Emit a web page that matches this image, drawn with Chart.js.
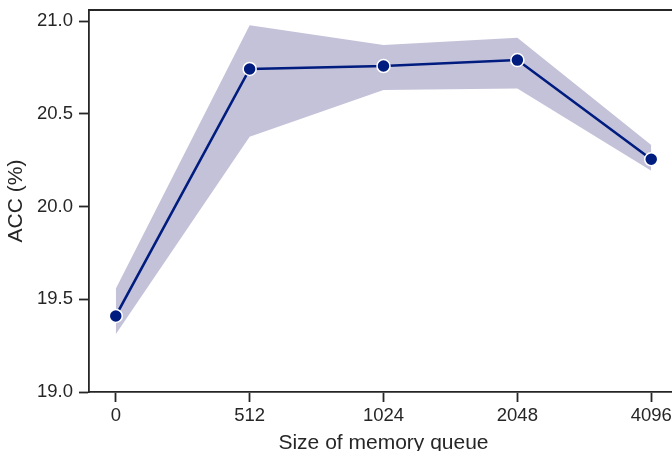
<!DOCTYPE html>
<html><head><meta charset="utf-8">
<script src="https://cdn.jsdelivr.net/npm/chart.js@4/dist/chart.umd.min.js"></script>
<style>
html,body{margin:0;padding:0;overflow:hidden;background:#fff;width:672px;height:451px}
#wrap{position:absolute;left:0;top:0;width:686px;height:451px}
</style>
</head><body><div id="wrap"><canvas id="c" width="686" height="451"></canvas></div>
<script>
const categories = ['0', '512', '1024', '2048', '4096'];
const accMean  = [19.410, 20.742, 20.758, 20.790, 20.255];
const accUpper = [19.557, 20.978, 20.871, 20.910, 20.332];
const accLower = [19.312, 20.376, 20.628, 20.637, 20.193];
const yTicks = [19.0, 19.5, 20.0, 20.5, 21.0];

const INK = '#262626';
const LINE = '#001c7f';
const BAND = '#c4c2d9';
const FAM = '"Liberation Sans", Arial, sans-serif';

const pts = arr => arr.map((v, i) => ({x: i, y: v}));

const spines = {
  id: 'spines',
  afterDraw(chart) {
    const {ctx, chartArea: a} = chart;
    ctx.save();
    ctx.strokeStyle = INK;
    ctx.lineWidth = 1.8;
    ctx.beginPath();
    ctx.moveTo(a.left - 0.9, a.top);
    ctx.lineTo(a.right + 0.9, a.top);
    ctx.moveTo(a.right, a.top);
    ctx.lineTo(a.right, a.bottom);
    ctx.stroke();
    ctx.restore();
  }
};

new Chart(document.getElementById('c'), {
  type: 'line',
  data: {
    datasets: [
      {data: pts(accUpper), borderWidth: 0, borderColor: 'rgba(0,0,0,0)', pointRadius: 0, fill: false, order: 2},
      {data: pts(accLower), borderWidth: 0, borderColor: 'rgba(0,0,0,0)', pointRadius: 0, fill: '-1', backgroundColor: BAND, order: 2},
      {data: pts(accMean), borderColor: LINE, borderWidth: 2.6, pointRadius: 6.5,
       pointBackgroundColor: LINE, pointBorderColor: '#ffffff', pointBorderWidth: 1.5, fill: false, order: 1}
    ]
  },
  options: {
    responsive: false, animation: false, devicePixelRatio: 1,
    layout: {padding: {top: 10, right: 3, left: 0, bottom: 0}},
    elements: {line: {tension: 0}},
    plugins: {legend: {display: false}, tooltip: {enabled: false}},
    scales: {
      x: {
        type: 'linear', min: -0.2, max: 4.2,
        afterBuildTicks: s => { s.ticks = categories.map((c, i) => ({value: i})); },
        afterFit: s => { s.height = 59; s.paddingLeft = 0; s.paddingRight = 0; },
        ticks: {callback: v => categories[v], color: INK, font: {family: FAM, size: 18.5}, padding: 3, maxRotation: 0, autoSkip: false},
        grid: {drawOnChartArea: false, drawTicks: true, tickLength: 10, tickWidth: 1.8, tickColor: INK},
        border: {display: true, color: INK, width: 1.8},
        title: {display: true, text: 'Size of memory queue', color: INK, font: {family: FAM, size: 21, lineHeight: 1}, padding: {top: 0, bottom: -3}}
      },
      y: {
        type: 'linear', min: 19.0, max: 21.06,
        afterBuildTicks: s => { s.ticks = yTicks.map(v => ({value: v})); },
        afterFit: s => { s.width = 89; s.paddingTop = 0; s.paddingBottom = 0; },
        ticks: {callback: v => v.toFixed(1), color: INK, font: {family: FAM, size: 18.5}, padding: 6},
        grid: {drawOnChartArea: false, drawTicks: true, tickLength: 10, tickWidth: 1.8, tickColor: INK},
        border: {display: true, color: INK, width: 1.8},
        title: {display: true, text: 'ACC (%)', color: INK, font: {family: FAM, size: 21, lineHeight: 1}, padding: {top: 6, bottom: 0}}
      }
    }
  },
  plugins: [spines]
});
</script>
</body></html>
